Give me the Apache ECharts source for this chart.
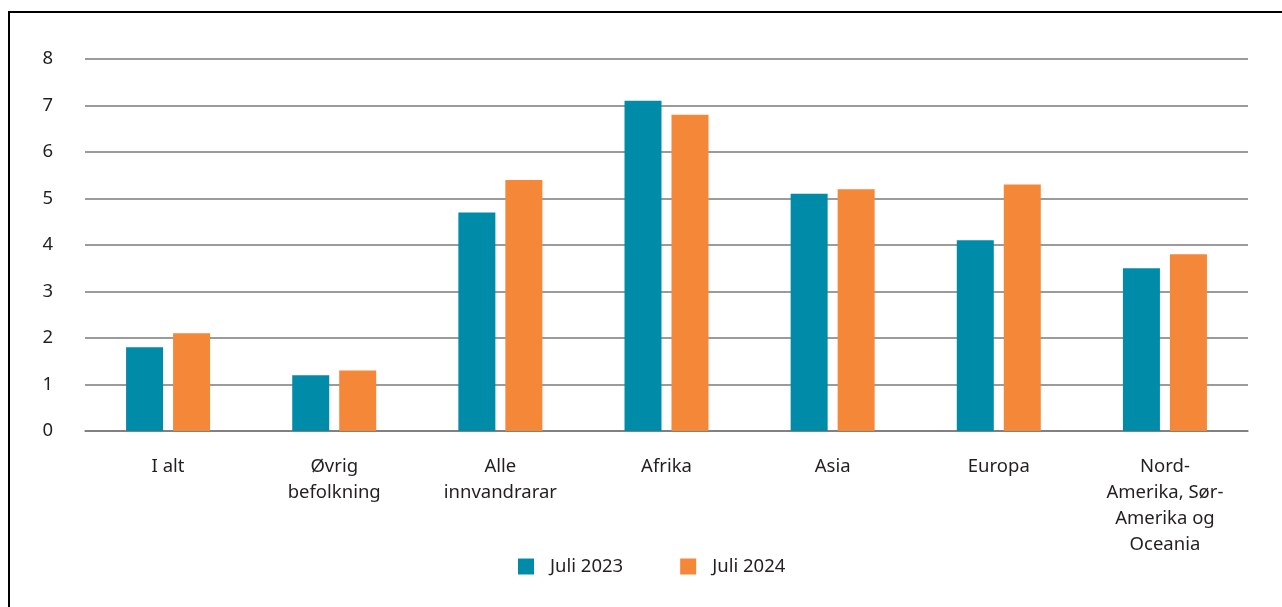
<!DOCTYPE html>
<html>
<head>
<meta charset="utf-8">
<script src="https://cdn.jsdelivr.net/npm/echarts@6/dist/echarts.min.js"></script>
<style>
  html, body { margin: 0; padding: 0; background: #fff; overflow: hidden; }
  #frame { position: absolute; left: 8px; top: 11px; width: 1300px; height: 620px; border: 2px solid #000; }
  #chart { position: absolute; left: 0; top: 0; width: 1282px; height: 607px; }
</style>
</head>
<body>
<div id="frame"></div>
<div id="chart"></div>
<script>
var categories = ['I alt', 'Øvrig\nbefolkning', 'Alle\ninnvandrarar', 'Afrika', 'Asia', 'Europa', 'Nord-\nAmerika, Sør-\nAmerika og\nOceania']
var juli2023 = [1.8, 1.2, 4.7, 7.1, 5.1, 4.1, 3.5]
var juli2024 = [2.1, 1.3, 5.4, 6.8, 5.2, 5.3, 3.8]

var font = 'Noto Sans'
var chart = echarts.init(document.getElementById('chart'))
chart.setOption({
  animation: false,
  textStyle: { fontFamily: font },
  grid: { left: 85, right: 34, top: 59, bottom: 176, containLabel: false },
  legend: {
    bottom: 26,
    left: 513,
    itemWidth: 16,
    itemHeight: 16,
    itemGap: 57,
    icon: 'rect',
    textStyle: { fontSize: 18.5, color: '#231f20', padding: [0, 0, 0, 11], fontFamily: font },
    data: ['Juli 2023', 'Juli 2024']
  },
  xAxis: {
    type: 'category',
    data: categories,
    axisLine: { lineStyle: { color: '#7a7a7a', width: 1.5 } },
    axisTick: { show: false },
    axisLabel: { fontSize: 18.5, color: '#231f20', margin: 23, lineHeight: 26, interval: 0, fontFamily: font }
  },
  yAxis: {
    type: 'value',
    min: 0,
    max: 8,
    interval: 1,
    axisLine: { show: false },
    axisTick: { show: false },
    axisLabel: { fontSize: 18.5, color: '#231f20', margin: 32, fontFamily: font },
    splitLine: { lineStyle: { color: '#7a7a7a', width: 1.5 } }
  },
  series: [
    { name: 'Juli 2023', type: 'bar', data: juli2023, barWidth: 37, barGap: '27%', itemStyle: { color: '#008ca9' } },
    { name: 'Juli 2024', type: 'bar', data: juli2024, barWidth: 37, itemStyle: { color: '#f58738' } }
  ]
})
</script>
</body>
</html>
